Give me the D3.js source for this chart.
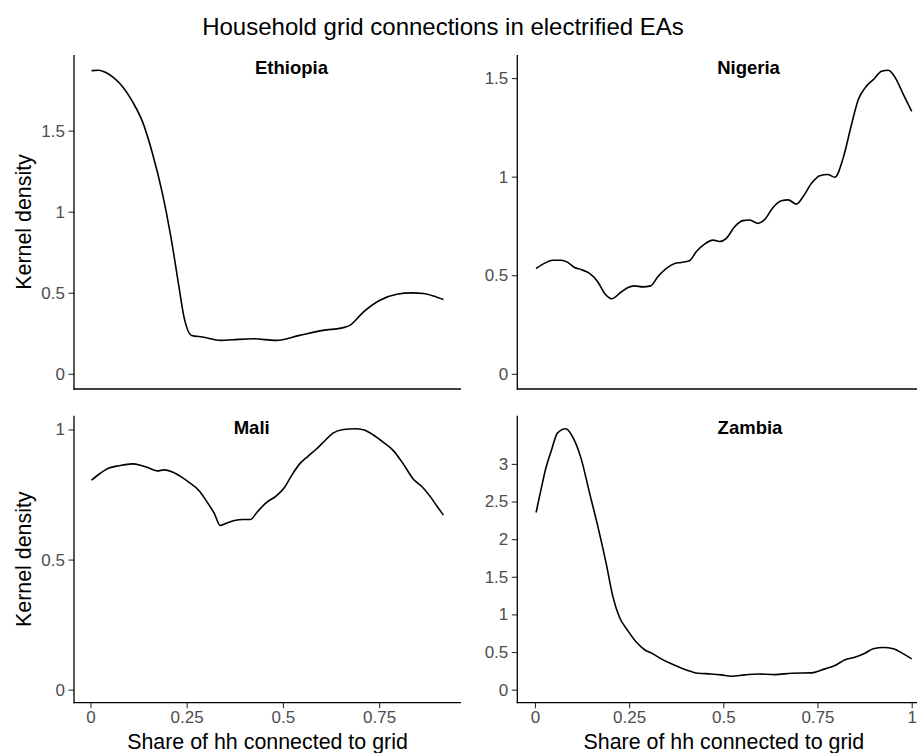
<!DOCTYPE html>
<html>
<head>
<meta charset="utf-8">
<script src="https://cdn.jsdelivr.net/npm/d3@7"></script>
<style>
  html, body { margin: 0; padding: 0; background: #fff; }
  svg { display: block; }
  text { font-family: "Liberation Sans", Arial, Helvetica, sans-serif; }
</style>
</head>
<body>
<div id="chart"></div>
<script>
// ---------------- DATA ----------------
const chartTitle = "Household grid connections in electrified EAs";
const xTitle = "Share of hh connected to grid";
const yTitle = "Kernel density";

const ethiopiaX = [0.003,0.022,0.039,0.061,0.083,0.109,0.135,0.161,0.187,0.209,0.230,0.243,0.263,0.291,0.339,0.370,0.422,0.483,0.543,0.604,0.657,0.674,0.709,0.752,0.796,0.835,0.865,0.891,0.917];
const ethiopiaY = [1.870,1.873,1.860,1.825,1.773,1.680,1.557,1.361,1.113,0.845,0.536,0.351,0.237,0.227,0.206,0.210,0.216,0.206,0.237,0.268,0.285,0.299,0.381,0.454,0.491,0.499,0.495,0.480,0.458];

const nigeriaX = [0.003,0.025,0.047,0.069,0.087,0.105,0.122,0.145,0.167,0.184,0.204,0.229,0.246,0.264,0.286,0.307,0.326,0.348,0.371,0.388,0.410,0.428,0.450,0.473,0.490,0.508,0.530,0.552,0.570,0.592,0.610,0.632,0.654,0.672,0.694,0.712,0.734,0.756,0.777,0.796,0.818,0.840,0.858,0.878,0.898,0.920,0.938,0.957,0.978,1.000];
const nigeriaY = [0.534,0.560,0.576,0.576,0.565,0.539,0.529,0.509,0.466,0.410,0.381,0.415,0.437,0.446,0.441,0.446,0.492,0.534,0.560,0.565,0.573,0.619,0.658,0.678,0.671,0.687,0.746,0.777,0.780,0.763,0.783,0.844,0.878,0.882,0.861,0.899,0.966,1.005,1.011,0.997,1.094,1.263,1.390,1.455,1.492,1.534,1.540,1.500,1.416,1.331];

const maliX = [0.003,0.022,0.048,0.074,0.109,0.130,0.152,0.174,0.191,0.213,0.235,0.257,0.283,0.304,0.322,0.337,0.352,0.374,0.396,0.415,0.435,0.457,0.483,0.504,0.522,0.543,0.565,0.587,0.609,0.630,0.657,0.687,0.709,0.735,0.761,0.787,0.813,0.839,0.861,0.883,0.900,0.917];
const maliY = [0.805,0.828,0.852,0.861,0.868,0.863,0.852,0.841,0.845,0.837,0.819,0.796,0.764,0.719,0.677,0.631,0.639,0.650,0.654,0.654,0.686,0.719,0.745,0.777,0.822,0.867,0.897,0.925,0.957,0.986,1.000,1.003,0.999,0.979,0.951,0.919,0.867,0.809,0.781,0.742,0.706,0.671];

const zambiaX = [0.003,0.016,0.029,0.043,0.060,0.082,0.100,0.122,0.145,0.167,0.189,0.207,0.224,0.246,0.269,0.291,0.313,0.335,0.362,0.388,0.415,0.433,0.468,0.495,0.521,0.557,0.592,0.637,0.681,0.734,0.770,0.796,0.823,0.849,0.876,0.898,0.925,0.951,0.978,1.000];
const zambiaY = [2.354,2.657,2.946,3.169,3.413,3.467,3.360,3.080,2.612,2.167,1.678,1.233,0.966,0.788,0.632,0.530,0.476,0.409,0.343,0.289,0.240,0.218,0.209,0.196,0.178,0.196,0.209,0.200,0.218,0.223,0.276,0.320,0.396,0.432,0.485,0.543,0.561,0.543,0.476,0.409];

const countries = ["Ethiopia", "Nigeria", "Mali", "Zambia"];
const leftXTicks = [0, 0.25, 0.5, 0.75];
const leftXTickLabels = ["0", "0.25", "0.5", "0.75"];
const rightXTicks = [0, 0.25, 0.5, 0.75, 1];
const rightXTickLabels = ["0", "0.25", "0.5", "0.75", "1"];
const ethiopiaYTicks = [0, 0.5, 1, 1.5];
const nigeriaYTicks = [0, 0.5, 1, 1.5];
const maliYTicks = [0, 0.5, 1];
const zambiaYTicks = [0, 0.5, 1, 1.5, 2, 2.5, 3];

// ---------------- LAYOUT ----------------
const W = 917, H = 753;
const fmt = v => String(+v.toFixed(2));

const panels = [
  { name: countries[0], xs: ethiopiaX, ys: ethiopiaY, yTicks: ethiopiaYTicks, xTicks: leftXTicks, xLabels: leftXTickLabels,
    x0: 74, x1: 461, y0: 55, y1: 389, showX: false, showYTitle: true, titleX: 291.5, titleY: 74 },
  { name: countries[1], xs: nigeriaX, ys: nigeriaY, yTicks: nigeriaYTicks, xTicks: rightXTicks, xLabels: rightXTickLabels,
    x0: 517.3, x1: 930.5, y0: 55, y1: 389, showX: false, showYTitle: false, titleX: 748.5, titleY: 74 },
  { name: countries[2], xs: maliX, ys: maliY, yTicks: maliYTicks, xTicks: leftXTicks, xLabels: leftXTickLabels,
    x0: 74, x1: 461, y0: 415.7, y1: 702.7, showX: true, showYTitle: true, titleX: 251.7, titleY: 434.3 },
  { name: countries[3], xs: zambiaX, ys: zambiaY, yTicks: zambiaYTicks, xTicks: rightXTicks, xLabels: rightXTickLabels,
    x0: 517.3, x1: 930.5, y0: 415.7, y1: 702.7, showX: true, showYTitle: false, titleX: 750, titleY: 434.3 }
];

const svg = d3.select("#chart").append("svg").attr("width", W).attr("height", H);

svg.append("text")
  .attr("x", 443).attr("y", 35)
  .attr("text-anchor", "middle")
  .attr("font-size", 24)
  .attr("fill", "#000")
  .text(chartTitle);

panels.forEach(p => {
  const xmin = d3.min(p.xs), xmax = d3.max(p.xs);
  const xpad = (xmax - xmin) * 0.05;
  const x = d3.scaleLinear().domain([xmin - xpad, xmax + xpad]).range([p.x0, p.x1]);
  const ymax = d3.max(p.ys);
  const ypad = ymax * 0.05;
  const y = d3.scaleLinear().domain([-ypad, ymax + ypad]).range([p.y1, p.y0]);

  const g = svg.append("g");

  // y axis
  const yAxis = d3.axisLeft(y).tickValues(p.yTicks).tickFormat(fmt).tickSize(5.5).tickPadding(3.5);
  const ya = g.append("g").attr("transform", `translate(${p.x0},0)`).call(yAxis);
  ya.select(".domain").remove();
  ya.selectAll(".tick line").attr("stroke", "#333").attr("stroke-width", 1.1);
  ya.selectAll(".tick text").attr("fill", "#4d4d4d").attr("font-size", 17)
    .attr("font-family", "'Liberation Sans', Arial, sans-serif");
  g.append("line").attr("x1", p.x0).attr("x2", p.x0).attr("y1", p.y0).attr("y2", p.y1 + 0.6)
    .attr("stroke", "#000").attr("stroke-width", 1.3);

  // x axis
  if (p.showX) {
    const xAxis = d3.axisBottom(x).tickValues(p.xTicks)
      .tickFormat((d, i) => p.xLabels[i]).tickSize(5.5).tickPadding(2.5);
    const xa = g.append("g").attr("transform", `translate(0,${p.y1})`).call(xAxis);
    xa.select(".domain").remove();
    xa.selectAll(".tick line").attr("stroke", "#333").attr("stroke-width", 1.1);
    xa.selectAll(".tick text").attr("fill", "#4d4d4d").attr("font-size", 17)
      .attr("font-family", "'Liberation Sans', Arial, sans-serif");
    g.append("text")
      .attr("x", (p.x0 + p.x1) / 2).attr("y", 749)
      .attr("text-anchor", "middle").attr("font-size", 21.4).attr("fill", "#000")
      .text(xTitle);
  }
  g.append("line").attr("x1", p.x0 - 0.6).attr("x2", p.x1).attr("y1", p.y1).attr("y2", p.y1)
    .attr("stroke", "#000").attr("stroke-width", 1.3);

  if (p.showYTitle) {
    const cy = (p.y0 + p.y1) / 2;
    g.append("text")
      .attr("transform", `translate(31,${cy}) rotate(-90)`)
      .attr("text-anchor", "middle").attr("font-size", 21.4).attr("fill", "#000")
      .text(yTitle);
  }

  // curve
  const pts = p.xs.map((v, i) => [v, p.ys[i]]);
  const line = d3.line().x(d => x(d[0])).y(d => y(d[1])).curve(d3.curveMonotoneX);
  g.append("path").datum(pts).attr("d", line)
    .attr("fill", "none").attr("stroke", "#000").attr("stroke-width", 1.6)
    .attr("stroke-linejoin", "round");

  // panel title
  g.append("text")
    .attr("x", p.titleX).attr("y", p.titleY)
    .attr("text-anchor", "middle").attr("font-size", 18.5).attr("font-weight", "bold").attr("fill", "#000")
    .text(p.name);
});
</script>
</body>
</html>
